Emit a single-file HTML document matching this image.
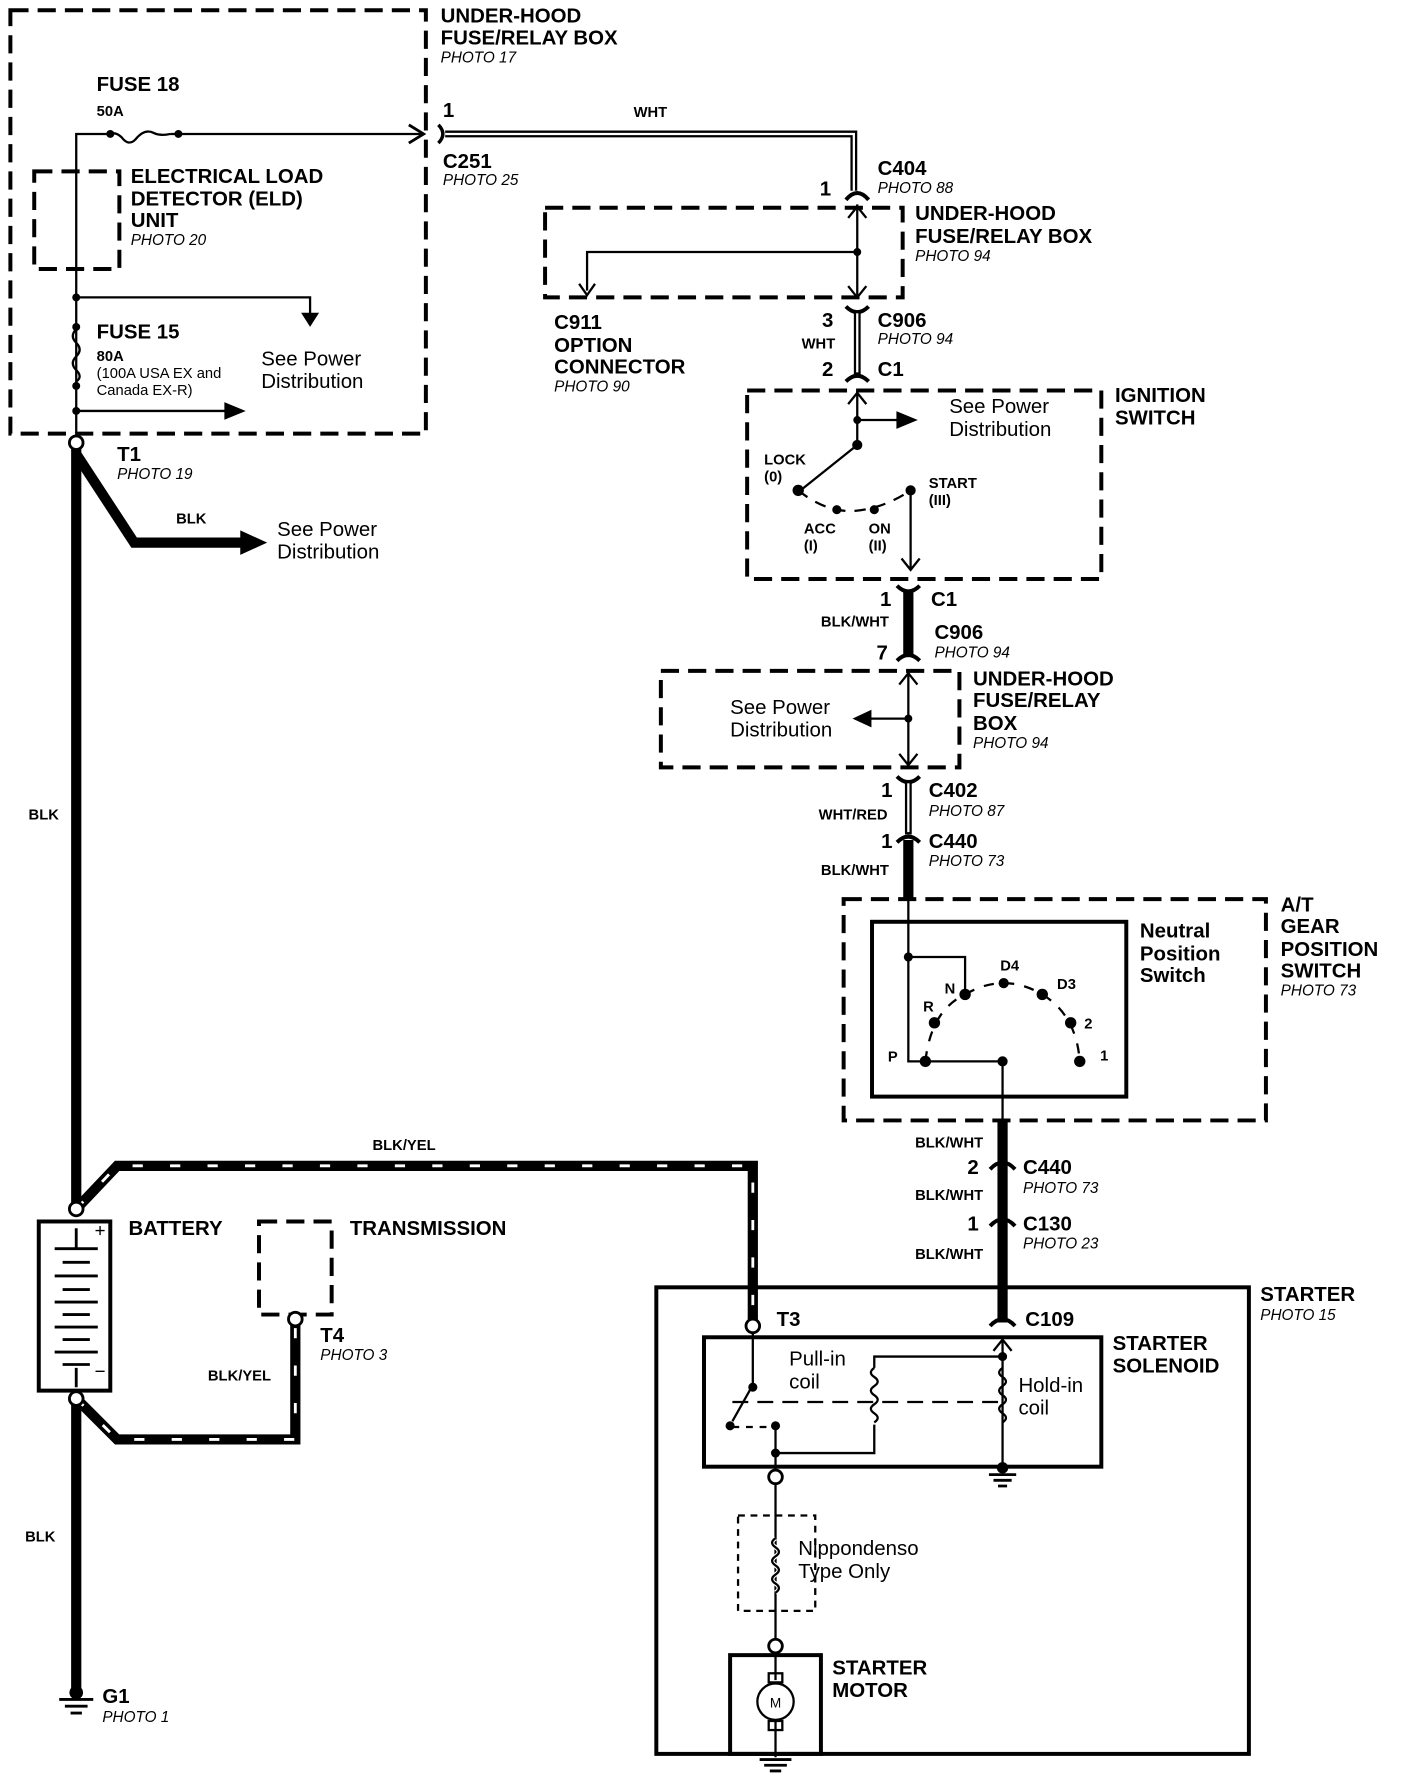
<!DOCTYPE html>
<html><head><meta charset="utf-8"><style>
html,body{margin:0;padding:0;background:#fff;}
svg{display:block}
text{font-family:"Liberation Sans",Arial,sans-serif;fill:#000}
.b{font-weight:bold;font-size:18px}
.s{font-weight:bold;font-size:13px}
.p{font-style:italic;font-size:13.5px}
.n{font-size:18px}
.m{font-size:13px}
</style></head><body>
<svg width="1408" height="1780" viewBox="0 0 1240 1568" xmlns="http://www.w3.org/2000/svg">
<g fill="none" stroke="#000">
<g stroke-width="3.5" stroke-dasharray="16,8">
<rect x="9" y="9" width="366" height="373"/>
<rect x="30" y="151" width="75" height="86"/>
<rect x="480" y="183" width="315" height="79"/>
<rect x="658" y="344" width="312" height="166"/>
<rect x="582" y="591" width="263" height="85"/>
<rect x="743" y="792" width="372" height="195"/>
<rect x="228" y="1076" width="64" height="82"/>
</g>
<rect x="650" y="1335" width="68" height="84" stroke-width="2" stroke-dasharray="6,5"/>
<rect x="768" y="812" width="224" height="154" stroke-width="3.5"/>
<rect x="578" y="1134" width="522" height="411" stroke-width="3.5"/>
<rect x="620" y="1178" width="350" height="114" stroke-width="3.5"/>
<rect x="643" y="1458" width="80" height="87" stroke-width="3.5"/>
<rect x="34" y="1076" width="63" height="149" stroke-width="3.5"/>

<path d="M67,382V118H97M150,118H373" stroke-width="2"/>
<path d="M97,118q5,-2 10,3q6,8 12,2q8,-10 16,-6q6,3 15,1" stroke-width="2"/>
<path d="M360,110L373,118L360,126" stroke-width="2.5"/>
<path d="M67,262H273V278" stroke-width="2"/>
<path d="M266,276L273,287L280,276z" fill="#000"/>
<path d="M67,290q-6,6 0,12t0,12t0,12t0,10" stroke-width="2"/>
<path d="M67,362H200" stroke-width="2"/>
<path d="M198,355L215,362L198,369z" fill="#000"/>
<g fill="#000" stroke="none"><circle cx="97" cy="118" r="3.5"/><circle cx="157" cy="118" r="3.5"/><circle cx="67" cy="262" r="3.5"/><circle cx="67" cy="288" r="3.5"/><circle cx="67" cy="340" r="3.5"/><circle cx="67" cy="362" r="3.5"/></g>
<path d="M386,110q8,8 0,16" stroke-width="3"/>
<path d="M392,118H752V168" stroke-width="6"/>
<path d="M392,118H752V168" stroke="#fff" stroke-width="2"/>
<path d="M745,176q10,-12 20,0" stroke-width="3.5"/>
<path d="M755,180V262" stroke-width="2"/>
<path d="M747,192L755,182L763,192M747,252L755,262L763,252" stroke-width="2"/>
<path d="M755,222H517V256" stroke-width="2"/>
<path d="M510,250L517,260L524,250" stroke-width="2"/>
<circle cx="755" cy="222" r="3.5" fill="#000" stroke="none"/>
<path d="M745,270q10,10 20,0" stroke-width="3.5"/>
<path d="M755,274V330" stroke-width="6"/><path d="M755,276V328" stroke="#fff" stroke-width="2"/>
<path d="M745,336q10,-10 20,0" stroke-width="3.5"/>
<path d="M755,344V392M755,370H793" stroke-width="2"/>
<path d="M747,356L755,346L763,356" stroke-width="2"/>
<path d="M790,363L807,370L790,377z" fill="#000"/>
<path d="M755,392L705,432" stroke-width="2"/>
<path d="M703,432q25,20 50,18q25,-2 49,-18" stroke-width="2" stroke-dasharray="10,8"/>
<path d="M802,432V502" stroke-width="2"/>
<path d="M794,492L802,502L810,492" stroke-width="2"/>
<g fill="#000" stroke="none"><circle cx="755" cy="392" r="4.5"/><circle cx="755" cy="370" r="3.5"/><circle cx="703" cy="432" r="5"/><circle cx="737" cy="449" r="4"/><circle cx="770" cy="449" r="4"/><circle cx="802" cy="432" r="4.5"/></g>
<path d="M790,516q10,10 20,0" stroke-width="3.5"/>
<path d="M800,520V578" stroke-width="9"/>
<path d="M790,582q10,-10 20,0" stroke-width="3.5"/>
<path d="M800,591V676M800,633H765" stroke-width="2"/>
<path d="M792,603L800,593L808,603M792,664L800,674L808,664" stroke-width="2"/>
<path d="M767,626L752,633L767,640z" fill="#000"/>
<circle cx="800" cy="633" r="3.5" fill="#000" stroke="none"/>
<path d="M790,684q10,10 20,0" stroke-width="3.5"/>
<path d="M800,688V735" stroke-width="6"/><path d="M800,690V733" stroke="#fff" stroke-width="2"/>
<path d="M790,742q10,-10 20,0" stroke-width="3.5"/>
<path d="M800,740V792" stroke-width="9"/>
<path d="M800,792V935H815M800,843H850V876M815,935H883V987" stroke-width="2"/>
<path d="M815,935q5,-45 35,-59q34,-20 68,0q30,18 33,59" stroke-width="2" stroke-dasharray="9,9"/>
<g fill="#000" stroke="none"><circle cx="800" cy="843" r="4"/><circle cx="815" cy="935" r="5"/><circle cx="823" cy="901" r="5"/><circle cx="850" cy="876" r="5"/><circle cx="884" cy="866" r="4.5"/><circle cx="918" cy="876" r="5"/><circle cx="943" cy="901" r="5"/><circle cx="951" cy="935" r="5"/><circle cx="883" cy="935" r="4.5"/></g>
<path d="M883,987V1165" stroke-width="9"/>
<path d="M872,1030q11,-12 22,0M872,1080q11,-12 22,0M872,1168q11,-12 22,0" stroke-width="3.5"/>
<path d="M67,395V1065" stroke-width="9"/>
<path d="M67,400L118,478H215" stroke-width="9"/>
<path d="M212,468L234,478L212,488z" fill="#000"/>
<path d="M67,1232V1490" stroke-width="9"/>
<path d="M67,1065L103,1027H663V1165" stroke-width="9"/>
<path d="M67,1065L103,1027H663V1165" stroke="#fff" stroke-width="2.5" stroke-dasharray="9,24"/>
<path d="M67,1232L103,1268H260V1165" stroke-width="9"/>
<path d="M67,1232L103,1268H260V1165" stroke="#fff" stroke-width="2.5" stroke-dasharray="9,24"/>
<circle cx="67" cy="390" r="6" fill="#fff" stroke-width="2.5"/>
<circle cx="67" cy="1065" r="6" fill="#fff" stroke-width="2.5"/>
<circle cx="67" cy="1232" r="6" fill="#fff" stroke-width="2.5"/>
<circle cx="260" cy="1162" r="6" fill="#fff" stroke-width="2.5"/>
<circle cx="663" cy="1168" r="6" fill="#fff" stroke-width="2.5"/>
<g stroke-width="2.5"><path d="M67,1082V1100M67,1205V1222"/>
<path d="M48,1100H86M55,1112H79M48,1124H86M55,1136H79M48,1147H86M55,1158H79M48,1169H86M55,1180H79M48,1191H86M55,1202H79"/></g>
<path d="M84,1084h8M88,1080v8M84,1208h8" stroke-width="1.2"/>
<path d="M52,1497H82M57,1503H77M62,1509H72" stroke-width="2.5"/>
<circle cx="67" cy="1491" r="6" fill="#000" stroke="none"/>
<path d="M663,1174V1220L645,1252M683,1258V1300M683,1280H770V1255M770,1205V1195H883M883,1180V1255M883,1255V1295" stroke-width="2"/>
<path d="M875,1190L883,1180L891,1190" stroke-width="2"/>
<path d="M770,1205q-6,4 0,8t0,8t0,8t0,8t0,8t0,8" stroke-width="2"/>
<path d="M883,1205q-6,4 0,8t0,8t0,8t0,8t0,8t0,8" stroke-width="2"/>
<path d="M645,1235H880" stroke-width="2" stroke-dasharray="14,8"/>
<path d="M645,1257H683" stroke-width="2" stroke-dasharray="6,6"/>
<g fill="#000" stroke="none"><circle cx="663" cy="1222" r="4"/><circle cx="643" cy="1256" r="4"/><circle cx="683" cy="1256" r="4"/><circle cx="683" cy="1280" r="4"/><circle cx="883" cy="1195" r="4"/><circle cx="883" cy="1293" r="5"/></g>
<path d="M871,1299H895M875,1304H891M879,1309H887" stroke-width="2.5"/>
<circle cx="683" cy="1301" r="6" fill="#fff" stroke-width="2.5"/>
<path d="M683,1307V1444" stroke-width="2"/>
<path d="M683,1355q-6,4 0,8t0,8t0,8t0,8t0,8t0,8" stroke="#fff" stroke-width="4"/>
<path d="M683,1355q-6,4 0,8t0,8t0,8t0,8t0,8t0,8" stroke-width="2"/>
<circle cx="683" cy="1450" r="6" fill="#fff" stroke-width="2.5"/>
<path d="M683,1456V1480M683,1516V1548" stroke-width="2"/>
<rect x="677" y="1474" width="12" height="8" stroke-width="2"/>
<circle cx="683" cy="1499" r="16" stroke-width="2"/>
<rect x="677" y="1516" width="12" height="8" stroke-width="2"/>
<path d="M669,1550H697M673,1555H693M678,1560H688" stroke-width="2.5"/>
</g>
<text x="683" y="1504" text-anchor="middle" style="font-size:12px">M</text>

<text class="b" x="388" y="20">UNDER-HOOD</text>
<text class="b" x="388" y="39">FUSE/RELAY BOX</text>
<text class="p" x="388" y="55">PHOTO 17</text>
<text class="b" x="85" y="80">FUSE 18</text>
<text class="s" x="85" y="102">50A</text>
<text class="b" x="115" y="161">ELECTRICAL LOAD</text>
<text class="b" x="115" y="181">DETECTOR (ELD)</text>
<text class="b" x="115" y="200">UNIT</text>
<text class="p" x="115" y="216">PHOTO 20</text>
<text class="b" x="85" y="298">FUSE 15</text>
<text class="s" x="85" y="318">80A</text>
<text class="m" x="85" y="333">(100A USA EX and</text>
<text class="m" x="85" y="348">Canada EX-R)</text>
<text class="n" x="230" y="322">See Power</text>
<text class="n" x="230" y="342">Distribution</text>
<text class="b" x="103" y="406">T1</text>
<text class="p" x="103" y="422">PHOTO 19</text>
<text class="s" x="155" y="461">BLK</text>
<text class="n" x="244" y="472">See Power</text>
<text class="n" x="244" y="492">Distribution</text>
<text class="s" x="25" y="722">BLK</text>
<text class="s" x="328" y="1013">BLK/YEL</text>
<text class="b" x="113" y="1088">BATTERY</text>
<text class="b" x="308" y="1088">TRANSMISSION</text>
<text class="b" x="282" y="1182">T4</text>
<text class="p" x="282" y="1198">PHOTO 3</text>
<text class="s" x="183" y="1216">BLK/YEL</text>
<text class="s" x="22" y="1358">BLK</text>
<text class="b" x="90" y="1500">G1</text>
<text class="p" x="90" y="1517">PHOTO 1</text>

<text class="b" x="390" y="103">1</text>
<text class="s" x="558" y="103">WHT</text>
<text class="b" x="390" y="148">C251</text>
<text class="p" x="390" y="163">PHOTO 25</text>
<text class="b" x="773" y="154">C404</text>
<text class="p" x="773" y="170">PHOTO 88</text>
<text class="b" x="722" y="172">1</text>
<text class="b" x="806" y="194">UNDER-HOOD</text>
<text class="b" x="806" y="214">FUSE/RELAY BOX</text>
<text class="p" x="806" y="230">PHOTO 94</text>
<text class="b" x="488" y="290">C911</text>
<text class="b" x="488" y="310">OPTION</text>
<text class="b" x="488" y="329">CONNECTOR</text>
<text class="p" x="488" y="345">PHOTO 90</text>
<text class="b" x="724" y="288">3</text>
<text class="b" x="773" y="288">C906</text>
<text class="p" x="773" y="303">PHOTO 94</text>
<text class="s" x="706" y="307">WHT</text>
<text class="b" x="724" y="331">2</text>
<text class="b" x="773" y="331">C1</text>
<text class="n" x="836" y="364">See Power</text>
<text class="n" x="836" y="384">Distribution</text>
<text class="b" x="982" y="354">IGNITION</text>
<text class="b" x="982" y="374">SWITCH</text>
<text class="s" x="673" y="409">LOCK</text>
<text class="s" x="673" y="424">(0)</text>
<text class="s" x="818" y="430">START</text>
<text class="s" x="818" y="445">(III)</text>
<text class="s" x="708" y="470">ACC</text>
<text class="s" x="708" y="485">(I)</text>
<text class="s" x="765" y="470">ON</text>
<text class="s" x="765" y="485">(II)</text>
<text class="b" x="775" y="534">1</text>
<text class="b" x="820" y="534">C1</text>
<text class="s" x="723" y="552">BLK/WHT</text>
<text class="b" x="823" y="563">C906</text>
<text class="p" x="823" y="579">PHOTO 94</text>
<text class="b" x="772" y="581">7</text>
<text class="n" x="643" y="629">See Power</text>
<text class="n" x="643" y="649">Distribution</text>
<text class="b" x="857" y="604">UNDER-HOOD</text>
<text class="b" x="857" y="623">FUSE/RELAY</text>
<text class="b" x="857" y="643">BOX</text>
<text class="p" x="857" y="659">PHOTO 94</text>
<text class="b" x="776" y="702">1</text>
<text class="b" x="818" y="702">C402</text>
<text class="p" x="818" y="719">PHOTO 87</text>
<text class="s" x="721" y="722">WHT/RED</text>
<text class="b" x="776" y="747">1</text>
<text class="b" x="818" y="747">C440</text>
<text class="p" x="818" y="763">PHOTO 73</text>
<text class="s" x="723" y="771">BLK/WHT</text>
<text class="b" x="1004" y="826">Neutral</text>
<text class="b" x="1004" y="846">Position</text>
<text class="b" x="1004" y="865">Switch</text>
<text class="b" x="1128" y="803">A/T</text>
<text class="b" x="1128" y="822">GEAR</text>
<text class="b" x="1128" y="842">POSITION</text>
<text class="b" x="1128" y="861">SWITCH</text>
<text class="p" x="1128" y="877">PHOTO 73</text>
<text class="s" x="832" y="875">N</text>
<text class="s" x="813" y="891">R</text>
<text class="s" x="881" y="855">D4</text>
<text class="s" x="931" y="871">D3</text>
<text class="s" x="955" y="906">2</text>
<text class="s" x="969" y="934">1</text>
<text class="s" x="782" y="935">P</text>
<text class="s" x="806" y="1011">BLK/WHT</text>
<text class="b" x="852" y="1034">2</text>
<text class="b" x="901" y="1034">C440</text>
<text class="p" x="901" y="1051">PHOTO 73</text>
<text class="s" x="806" y="1057">BLK/WHT</text>
<text class="b" x="852" y="1084">1</text>
<text class="b" x="901" y="1084">C130</text>
<text class="p" x="901" y="1100">PHOTO 23</text>
<text class="s" x="806" y="1109">BLK/WHT</text>
<text class="b" x="1110" y="1146">STARTER</text>
<text class="p" x="1110" y="1163">PHOTO 15</text>
<text class="b" x="684" y="1168">T3</text>
<text class="b" x="903" y="1168">C109</text>
<text class="b" x="980" y="1189">STARTER</text>
<text class="b" x="980" y="1209">SOLENOID</text>
<text class="n" x="695" y="1203">Pull-in</text>
<text class="n" x="695" y="1223">coil</text>
<text class="n" x="897" y="1226">Hold-in</text>
<text class="n" x="897" y="1246">coil</text>
<text class="n" x="703" y="1370">Nippondenso</text>
<text class="n" x="703" y="1390">Type Only</text>
<text class="b" x="733" y="1475">STARTER</text>
<text class="b" x="733" y="1495">MOTOR</text>
</svg>
</body></html>
